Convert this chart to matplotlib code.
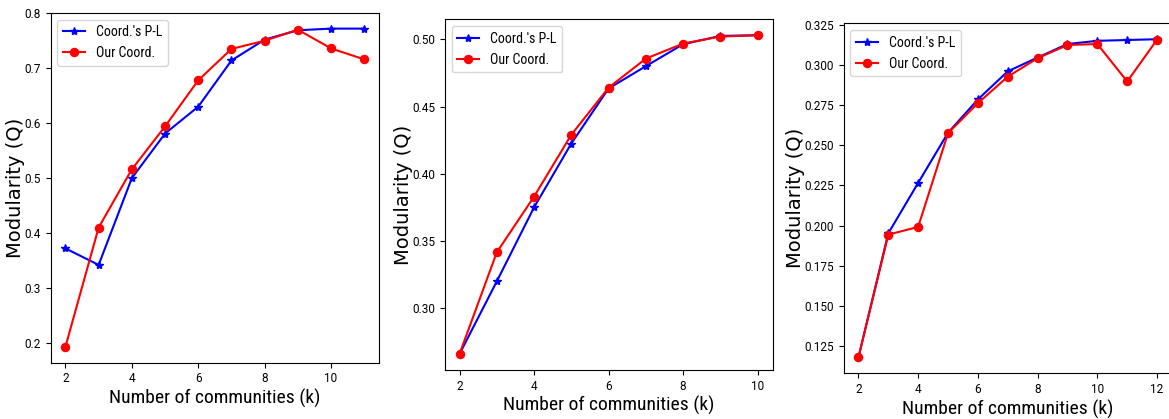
import matplotlib
matplotlib.use("Agg")
import matplotlib.pyplot as plt

# data
k1 = [2, 3, 4, 5, 6, 7, 8, 9, 10, 11]
pl1 = [0.372, 0.342, 0.500, 0.581, 0.630, 0.714, 0.752, 0.769, 0.772, 0.772]
our1 = [0.193, 0.410, 0.516, 0.594, 0.678, 0.735, 0.750, 0.770, 0.736, 0.716]

k2 = [2, 3, 4, 5, 6, 7, 8, 9, 10]
pl2 = [0.266, 0.320, 0.375, 0.4225, 0.4634, 0.480, 0.4963, 0.5025, 0.503]
our2 = [0.266, 0.3416, 0.383, 0.429, 0.464, 0.4856, 0.4968, 0.502, 0.503]

k3 = [2, 3, 4, 5, 6, 7, 8, 9, 10, 11, 12]
pl3 = [0.118, 0.1952, 0.2266, 0.2578, 0.2785, 0.296, 0.3046, 0.313, 0.315, 0.3155, 0.316]
our3 = [0.118, 0.1944, 0.1992, 0.2575, 0.2762, 0.2927, 0.3042, 0.3124, 0.313, 0.2897, 0.3157]

cond = "Roboto Condensed"
W, H = 1169, 419

fig = plt.figure(figsize=(W / 100, H / 100), dpi=100)
# axes boxes in pixels: left, top, right, bottom ; plus right edge of the y label
boxes = [(50.5, 12.7, 379.2, 362.7, 25), (444.6, 19.3, 772.5, 370, 413), (843.5, 23.3, 1172, 373.3, 805)]
panels = [(k1, pl1, our1), (k2, pl2, our2), (k3, pl3, our3)]

for (l, t, r, b, ylx), (k, pl, our) in zip(boxes, panels):
    ax = fig.add_axes([l / W, 1 - b / H, (r - l) / W, (b - t) / H])
    ax.plot(k, pl, color="blue", marker="*", markersize=6, linewidth=1.5, label="Coord.'s P-L")
    ax.plot(k, our, color="red", marker="o", markersize=5.8, linewidth=1.5, label="Our Coord.")
    ax.set_xlabel("Number of communities (k)", family=cond, fontsize=14, labelpad=2.5)
    ax.set_ylabel("Modularity (Q)", fontsize=14)
    ax.yaxis.set_label_coords((ylx - l) / (r - l), 0.5)
    for lab in ax.get_xticklabels() + ax.get_yticklabels():
        lab.set_family("Roboto")
        lab.set_fontsize(8.5)
    ax.legend(loc="upper left", prop={"family": cond, "size": 10}, handlelength=1.6)

plt.savefig("out.png", dpi=100)
